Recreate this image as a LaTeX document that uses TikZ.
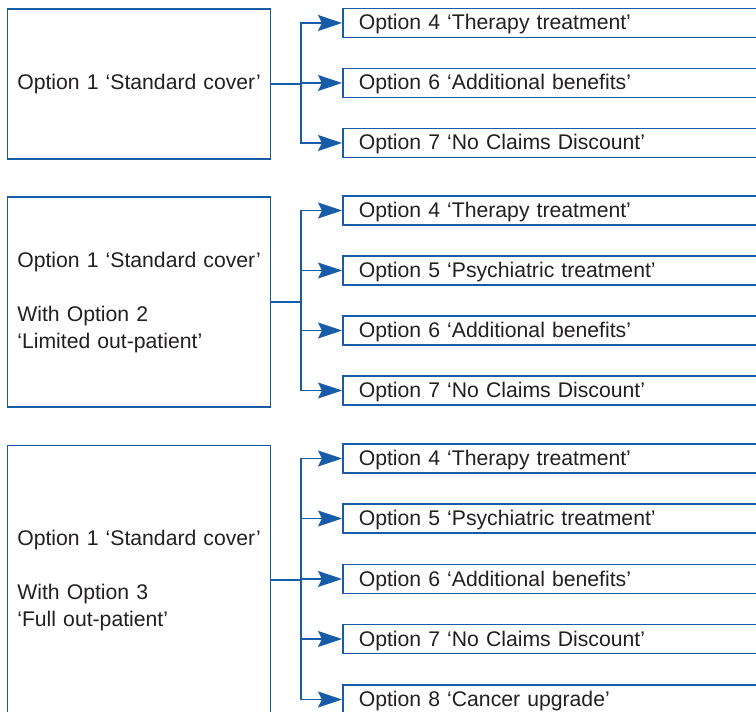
\documentclass[tikz,border=0pt]{standalone}
\usepackage{fontspec}
\setmainfont{Liberation Sans}
\usetikzlibrary{arrows.meta,positioning}
\definecolor{optblue}{RGB}{22,92,168}
\definecolor{opttext}{RGB}{35,31,32}
\tikzset{
	coverbox/.style={draw=optblue, line width=1.2pt, anchor=north west, minimum width=197.25pt, text width=182.25pt, inner xsep=7.5pt, align=left, text=opttext, font=\fontsize{15.9}{20.25}\selectfont},
	optbox/.style={draw=optblue, line width=1.2pt, anchor=west, minimum width=330pt, text width=306pt, inner xsep=12pt, inner ysep=0pt, text height=16.1pt, text depth=5.6pt, align=left, text=opttext, font=\fontsize{15.9}{20.25}\selectfont},
	link/.style={draw=optblue, line width=1.35pt},
	arr/.style={link, -{Stealth[length=18pt, width=12pt, inset=3pt]}}
}

\begin{document}
\begin{tikzpicture}[x=0.75pt, y=-0.75pt]
			%%%%% START %%%%%
			\useasboundingbox (0, 0) rectangle (756, 712);
			\clip (0, 0) rectangle (756, 712);
			
			% first group
			\node[coverbox, minimum height=112.5pt] (std) at (6.5, 8.5) {Option 1 ‘Standard cover’};
			\node[optbox] (std4) at (342, 23) {Option 4 ‘Therapy treatment’};
			\node[optbox] (std6) at (342, 83) {Option 6 ‘Additional benefits’};
			\node[optbox] (std7) at (342, 143) {Option 7 ‘No Claims Discount’};
			
			\coordinate (stdt) at ([xshift=22.5pt]std.east);
			\draw[link] (std.east) -- (stdt);
			\foreach \o in {std4, std6, std7}
				\draw[arr] (stdt) |- (\o.west);
			
			% second group
			\node[coverbox, minimum height=157.5pt] (lim) at (6.5, 196.5) {Option 1 ‘Standard cover’\\[20.25pt] With Option 2\\ ‘Limited out-patient’};
			\node[optbox] (lim4) at (342, 210.5) {Option 4 ‘Therapy treatment’};
			\node[optbox] (lim5) at (342, 270.5) {Option 5 ‘Psychiatric treatment’};
			\node[optbox] (lim6) at (342, 330.5) {Option 6 ‘Additional benefits’};
			\node[optbox] (lim7) at (342, 390.5) {Option 7 ‘No Claims Discount’};
			
			\coordinate (limt) at ([xshift=22.5pt]lim.east);
			\draw[link] (lim.east) -- (limt);
			\foreach \o in {lim4, lim5, lim6, lim7}
				\draw[arr] (limt) |- (\o.west);
			
			% third group
			\node[coverbox, minimum height=202.5pt] (full) at (6.5, 444.5) {Option 1 ‘Standard cover’\\[20.25pt] With Option 3\\ ‘Full out-patient’};
			\node[optbox] (full4) at (342, 458.5) {Option 4 ‘Therapy treatment’};
			\node[optbox] (full5) at (342, 518.5) {Option 5 ‘Psychiatric treatment’};
			\node[optbox] (full6) at (342, 579) {Option 6 ‘Additional benefits’};
			\node[optbox] (full7) at (342, 639) {Option 7 ‘No Claims Discount’};
			\node[optbox] (full8) at (342, 699.5) {Option 8 ‘Cancer upgrade’};
			
			\coordinate (fullt) at ([xshift=22.5pt]full.east);
			\draw[link] (full.east) -- (fullt);
			\foreach \o in {full4, full5, full6, full7, full8}
				\draw[arr] (fullt) |- (\o.west);
			%%%%% END %%%%%
\end{tikzpicture}
\end{document}
